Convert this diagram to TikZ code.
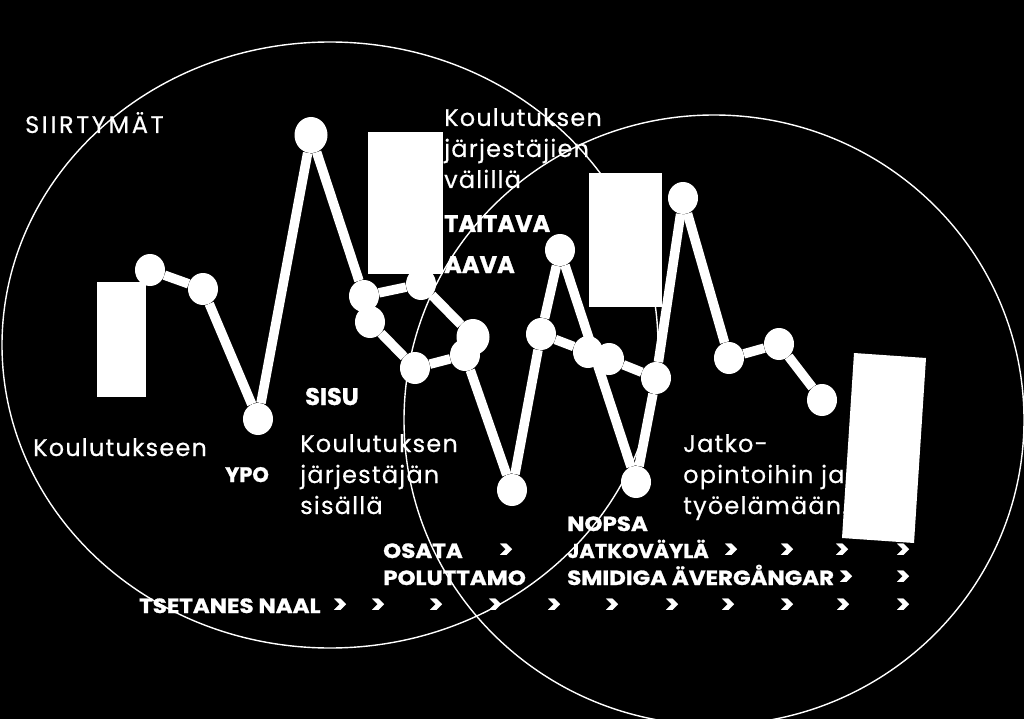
\documentclass[tikz,border=0pt]{standalone}
\usepackage{fontspec}
\setmainfont{Poppins}
\newfontfamily\regf[LetterSpace=5,FakeBold=0.4]{Poppins}
\newfontfamily\capf[LetterSpace=11,FakeBold=0.4]{Poppins}
\newfontfamily\bigf[BoldFeatures={FakeBold=1.2}]{Poppins}
\newfontfamily\rowf[FakeStretch=1.12,BoldFeatures={FakeBold=1.2}]{Poppins}
\newfontfamily\rownf[FakeStretch=1.05,BoldFeatures={FakeBold=1.2}]{Poppins}
\newfontfamily\arrf[FakeStretch=1.1,BoldFeatures={FakeBold=1.6}]{Poppins}
\usetikzlibrary{shapes.geometric}
\tikzset{
  dot/.style={ellipse,fill=white,minimum width=30pt,minimum height=32pt,inner sep=0pt},
  bigdot/.style={dot,minimum width=33pt,minimum height=36pt},
  link/.style={draw=white,line width=9.5pt,line join=round},
  ring/.style={draw=white,line width=1.4pt},
  bar/.style={fill=white},
  reg/.style={text=white,anchor=base west,inner sep=0pt,font=\regf\fontsize{24}{30}\selectfont},
  bigb/.style={text=white,anchor=base west,inner sep=0pt,font=\bigf\bfseries\fontsize{24}{30}\selectfont},
  smb/.style={text=white,anchor=base west,inner sep=0pt,font=\rowf\bfseries\fontsize{20.5}{24}\selectfont},
  arr/.style={text=white,anchor=base,inner sep=0pt,font=\arrf\bfseries\fontsize{25}{28}\selectfont}
}
\begin{document}
\begin{tikzpicture}[x=1pt,y=-1pt]
\fill[black] (0,0) rectangle (1024,719);
\useasboundingbox (0,0) rectangle (1024,719);
% rings
\draw[ring] (330,345) ellipse [x radius=328, y radius=303];
\draw[ring] (714,420) ellipse [x radius=310, y radius=305];
% bars
\fill[bar] (97,282) rectangle (146,397);
\fill[bar] (368,132) rectangle (443,274);
\fill[bar] (589,173) rectangle (662,307);
\fill[bar] (854,353) -- (926,358) -- (914,543) -- (842,538) -- cycle;
% graph nodes
\node[dot] (A) at (150,270) {};
\node[dot] (B) at (203,289) {};
\node[dot] (C) at (258,419) {};
\node[bigdot] (D) at (311,135) {};
\node[dot] (E) at (364,296) {};
\node[dot] (F) at (421,284) {};
\node[dot] (G) at (370,322) {};
\node[dot] (H) at (415,368) {};
\node[bigdot] (I) at (473,337) {};
\node[dot] (J) at (465,355) {};
\node[dot] (K) at (512,490) {};
\node[dot] (L) at (541,334) {};
\node[dot] (M) at (560,250) {};
\node[dot] (N) at (588,352) {};
\node[dot] (O) at (609,359) {};
\node[dot] (P) at (656,378) {};
\node[dot] (Q) at (636,482) {};
\node[dot] (R) at (683,198) {};
\node[dot] (S) at (729,358) {};
\node[dot] (T) at (779,344) {};
\node[dot] (U) at (822,400) {};
% links
\draw[link] (A) -- (B);
\draw[link] (B) -- (C);
\draw[link] (C) -- (D);
\draw[link] (D) -- (E);
\draw[link] (E) -- (F);
\draw[link] (F) -- (I);
\draw[link] (E) -- (G);
\draw[link] (G) -- (H);
\draw[link] (H) -- (J);
\draw[link] (J) -- (K);
\draw[link] (K) -- (L);
\draw[link] (L) -- (M);
\draw[link] (M) -- (Q);
\draw[link] (Q) -- (P);
\draw[link] (L) -- (N);
\draw[link] (N) -- (O);
\draw[link] (O) -- (P);
\draw[link] (P) -- (R);
\draw[link] (R) -- (S);
\draw[link] (S) -- (T);
\draw[link] (T) -- (U);
% texts
\node[reg,font=\capf\fontsize{24}{30}\selectfont] (t1) at (25,133) {SIIRTYMÄT};
\node[reg] (t2a) at (444,126) {Koulutuksen};
\node[reg] (t2b) at (444,157) {järjestäjien};
\node[reg] (t2c) at (444,188) {välillä};
\node[bigb] (t3) at (444,232) {TAITAVA};
\node[bigb] (t4) at (444,273) {AAVA};
\node[bigb] (t5) at (305,405) {SISU};
\node[reg] (t6) at (33,456) {Koulutukseen};
\node[bigb,font=\bigf\bfseries\fontsize{21}{26}\selectfont] (t7) at (225,482) {YPO};
\node[reg] (t8a) at (300,452) {Koulutuksen};
\node[reg] (t8b) at (300,483) {järjestäjän};
\node[reg] (t8c) at (300,514) {sisällä};
\node[reg] (t9a) at (683,452) {Jatko-};
\node[reg] (t9b) at (683,483) {opintoihin ja};
\node[reg] (t9c) at (683,514) {työelämään.};
\node[smb] (r1) at (567,531) {NOPSA};
\node[smb] (r2) at (383,558) {OSATA};
\node[arr] (r2a) at (506,558) {>};
\node[smb,font=\rownf\bfseries\fontsize{20}{24}\selectfont] (r3) at (567,558) {JATKOVÄYLÄ};
\foreach \x/\n in {731/a,787/b,842/c,903/d} \node[arr] (r3\n) at (\x,558) {>};
\node[smb] (r4) at (383,585) {POLUTTAMO};
\node[smb] (r5) at (567,585) {SMIDIGA ÄVERGÅNGAR};
\foreach \x/\n in {846/a,903/b} \node[arr] (r5\n) at (\x,585) {>};
\node[smb] (r6) at (139,613) {TSETANES NAAL};
\foreach \x/\n in {340/a,378/b,436/c,495/d,554/e,612/f,672/g,728/h,787/i,843/j,903/k} \node[arr] (r6\n) at (\x,613) {>};
\end{tikzpicture}
\end{document}
